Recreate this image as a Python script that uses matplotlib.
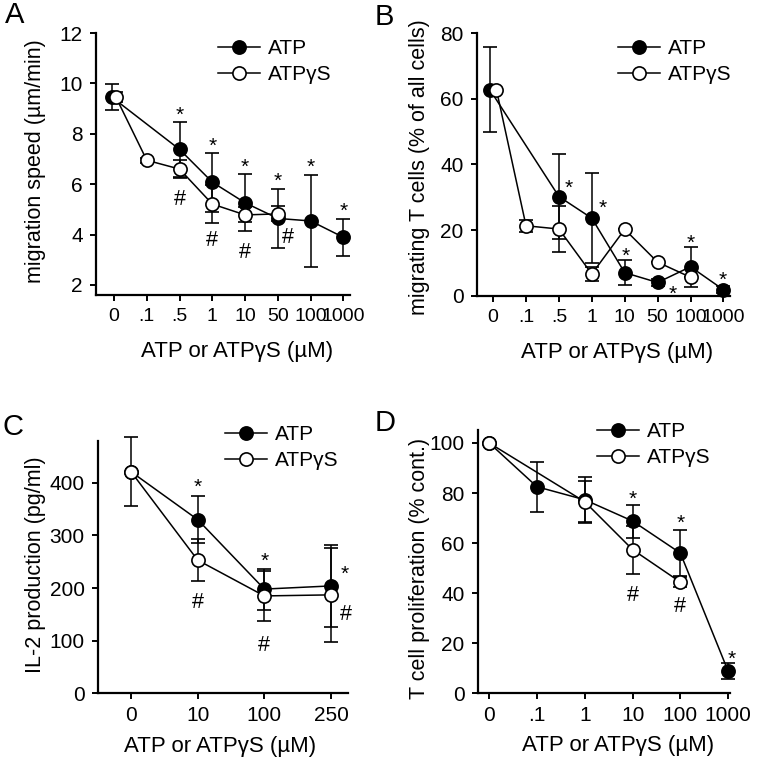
import numpy as np
import matplotlib.pyplot as plt

plt.rcParams['font.family'] = ['Liberation Sans', 'DejaVu Sans']

nan = np.nan

# A: migration speed
a_labels = ['0', '.1', '.5', '1', '10', '50', '100', '1000']
a_atp = [9.45, nan, 7.38, 6.08, 5.26, 4.64, 4.54, 3.89]
a_atp_err = [0.52, nan, 1.1, 1.17, 1.13, 1.16, 1.84, 0.73]
a_atps = [9.45, 6.95, 6.6, 5.21, 4.78, 4.82, nan, nan]
a_atps_err = [0.2, 0.1, 0.36, 0.74, 0.3, 0.3, nan, nan]

# B: migrating T cells
b_labels = ['0', '.1', '.5', '1', '10', '50', '100', '1000']
b_atp = [62.8, nan, 30.2, 23.6, 7.0, 4.0, 8.8, 1.8]
b_atp_err = [12.9, nan, 12.9, 13.7, 3.9, 1.2, 6.1, 1.0]
b_atps = [62.8, 21.3, 20.3, 6.6, 20.2, 10.2, 5.6, nan]
b_atps_err = [0.0, 1.8, 6.9, 2.2, 0.0, 0.0, 0.0, nan]

# C: IL-2 production
c_labels = ['0', '10', '100', '250']
c_atp = [421, 330, 198, 204]
c_atp_err = [66, 45, 39, 78]
c_atps = [421, 253, 185, 187]
c_atps_err = [0, 40, 48, 90]

# D: T cell proliferation
d_labels = ['0', '.1', '1', '10', '100', '1000']
d_atp = [100, 82.5, 77.3, 68.8, 56.0, 8.8]
d_atp_err = [0, 10.0, 9.0, 6.6, 9.1, 3.3]
d_atps = [100, nan, 76.5, 57.4, 44.4, nan]
d_atps_err = [0, nan, 8.5, 9.6, 2.0, nan]

# significance marks (x index, y value, symbol)
a_marks = [(2, 9.0, '*'), (3, 7.78, '*'), (4, 6.92, '*'), (5, 6.37, '*'),
           (6, 6.92, '*'), (7, 5.2, '*'),
           (2, 5.5, '#'), (3, 3.85, '#'), (4, 3.39, '#'), (5.31, 3.98, '#')]
b_marks = [(2.31, 34.8, '*'), (3.33, 28.7, '*'), (4.04, 13.9, '*'),
           (5.46, 2.5, '*'), (6.0, 17.8, '*'), (6.98, 6.6, '*')]
c_marks = [(1.0, 403, '*'), (1.0, 176, '#'), (2.0, 263, '*'), (2.0, 95, '#'),
           (3.21, 239, '*'), (3.23, 154, '#')]
d_marks = [(3, 80, '*'), (3, 39.8, '#'), (4, 70.7, '*'), (4, 35.5, '#'),
           (5.07, 16, '*')]

xlab = 'ATP or ATP\u03b3S (\u00b5M)'


def series(ax, x, y, err, filled, z):
    y = np.asarray(y, dtype=float)
    err = np.asarray(err, dtype=float)
    m = ~np.isnan(y)
    eb = ax.errorbar(x[m], y[m], yerr=err[m], color='black', lw=1.1,
                     marker='o', ms=9.5, mfc='black' if filled else 'white',
                     mec='black', mew=1.2, capsize=5, capthick=1.1,
                     elinewidth=1.1, zorder=z)
    for art in eb.get_children():
        art.set_clip_on(False)
    eb[0].set_zorder(z + 0.5)
    return eb


def panel(rect, letter, letter_xy, labels, atp, atp_err, atps, atps_err,
          ylim, yticks, xlim, ylabel, ylab_xy, xlab_xy, marks, leg_xy, shift0):
    ax = fig.add_axes(rect)
    x = np.arange(len(labels), dtype=float)
    xa = x.copy()
    xa[0] -= shift0
    xs = x.copy()
    xs[0] += shift0
    series(ax, xa, atp, atp_err, True, 3)
    series(ax, xs, atps, atps_err, False, 5)
    ax.set_xlim(*xlim)
    ax.set_ylim(*ylim)
    ax.set_xticks(x)
    ax.set_xticklabels(labels)
    ax.set_yticks(yticks)
    for s in ['top', 'right']:
        ax.spines[s].set_visible(False)
    for s in ['left', 'bottom']:
        ax.spines[s].set_linewidth(1.6)
    ax.tick_params(direction='out', length=4.5, width=1.4, labelsize=15, pad=5)
    if len(labels) > 6:
        ax.tick_params(axis='x', labelsize=14)
    ax.set_ylabel(ylabel, fontsize=15.5, va='center')
    ax.yaxis.set_label_coords(*ylab_xy)
    ax.set_xlabel(xlab, fontsize=16, va='center')
    ax.xaxis.set_label_coords(*xlab_xy)
    for mx, my, sym in marks:
        fs = 15 if sym == '*' else 15.5
        k = 0.58 if sym == '*' else 0.36
        ax.annotate(sym, (mx, my), xytext=(0, -k * fs), textcoords='offset points',
                    ha='center', va='baseline', fontsize=fs, zorder=6,
                    annotation_clip=False)
    h1 = plt.Line2D([], [], color='black', lw=1.1, marker='o', ms=9.5,
                    mfc='black', mec='black', mew=1.2)
    h2 = plt.Line2D([], [], color='black', lw=1.1, marker='o', ms=9.5,
                    mfc='white', mec='black', mew=1.2)
    ax.legend([h1, h2], ['ATP', 'ATP\u03b3S'], loc='upper left',
              bbox_to_anchor=(leg_xy[0] / 760, 1 - leg_xy[1] / 758),
              bbox_transform=fig.transFigure, frameon=False, fontsize=15,
              handlelength=2.0, handletextpad=0.4, borderpad=0,
              borderaxespad=0, labelspacing=0.35, numpoints=1)
    fig.text(letter_xy[0] / 760, 1 - letter_xy[1] / 758, letter, fontsize=21,
             ha='center', va='center')
    return ax


fig = plt.figure(figsize=(7.6, 7.58), dpi=100)

panel([0.1263, 0.6108, 0.3342, 0.3456], 'A', (15, 15), a_labels,
      a_atp, a_atp_err, a_atps, a_atps_err, (1.6, 12), [2, 4, 6, 8, 10, 12],
      (-0.55, 7.2), 'migration speed (\u00b5m/min)', (-0.24, 0.51),
      (0.555, -0.216), a_marks, (218, 39), 0.06)

panel([0.6272, 0.6100, 0.3333, 0.3462], 'B', (384, 17), b_labels,
      b_atp, b_atp_err, b_atps, b_atps_err, (0, 80), [0, 20, 40, 60, 80],
      (-0.5, 7.2), 'migrating T cells (% of all cells)', (-0.224, 0.488),
      (0.554, -0.216), b_marks, (618, 39), 0.1)

panel([0.1286, 0.0854, 0.3297, 0.3332], 'C', (13, 427), c_labels,
      c_atp, c_atp_err, c_atps, c_atps_err, (0, 480), [0, 100, 200, 300, 400],
      (-0.5, 3.26), 'IL-2 production (pg/ml)', (-0.25, 0.508),
      (0.488, -0.211), c_marks, (225, 425), 0.0)

panel([0.6286, 0.0855, 0.3320, 0.3466], 'D', (385, 423), d_labels,
      d_atp, d_atp_err, d_atps, d_atps_err, (0, 105), [0, 20, 40, 60, 80, 100],
      (-0.24, 5.04), 'T cell proliferation (% cont.)', (-0.229, 0.475),
      (0.556, -0.199), d_marks, (597, 422), 0.0)

fig.savefig('out.png', dpi=100)
